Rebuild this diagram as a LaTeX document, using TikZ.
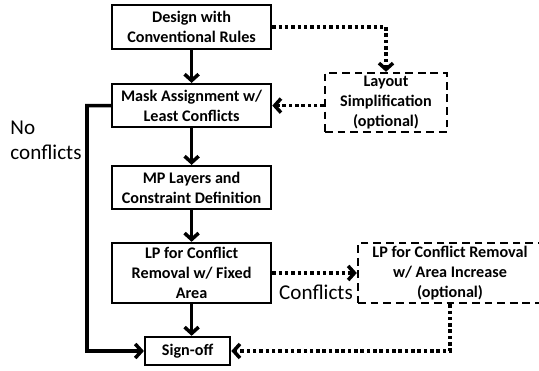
\documentclass[tikz,border=0pt]{standalone}
\usepackage{fontspec}
\setmainfont{Carlito}
\usepackage{tikz}
\usetikzlibrary{positioning}
\usetikzlibrary{calc}
\usetikzlibrary{arrows, arrows.meta}

\begin{document}
\begin{tikzpicture}[
    auto,
    flowBox/.style={rectangle,
    draw=black,
    line width=1.7pt,
    font=\fontsize{11.5}{14.2}\selectfont\bfseries,
    align=center,
    inner sep=0pt,
    minimum width=3.975cm},
    optBox/.style={flowBox,
    dash pattern=on 5.5pt off 3.5pt},
    plainText/.style={font=\fontsize{15}{17.8}\selectfont, inner sep=0pt}
    ]
    \useasboundingbox (0,0) rectangle (13.475,-9.275);
    \node[flowBox, minimum height=1.1cm] (1) [xshift=4.79cm, yshift=-0.675cm] {Design with\\Conventional Rules};
    \node[flowBox, minimum height=1.075cm] (2) [xshift=4.79cm, yshift=-2.64cm] {Mask Assignment w/\\Least Conflicts};
    \draw[line width=2.5pt, >={Straight Barb[length=4.5pt,width=10pt]}, ->] (1) -- (2);
    \node[optBox, minimum width=3.05cm, minimum height=1.475cm] (6) [xshift=9.65cm, yshift=-2.5625cm] {Layout\\Simplification\\(optional)};
    \draw[line width=2.5pt, dash pattern=on 2.5pt off 2pt, >={Straight Barb[length=4.5pt,width=10pt]}, ->] (1.east) -| (6.north);
    \draw[line width=2.5pt, dash pattern=on 2.5pt off 2pt, >={Straight Barb[length=4.5pt,width=10pt]}, ->] (6.west |- 2.east) -- (2.east);
    \node[flowBox, minimum height=1.075cm] (3) [xshift=4.79cm, yshift=-4.69cm] {MP Layers and\\Constraint Definition};
    \draw[line width=2.5pt, >={Straight Barb[length=4.5pt,width=10pt]}, ->] (2) -- (3);
    \node[flowBox, minimum height=1.5cm] (4) [xshift=4.79cm, yshift=-6.825cm] {LP for Conflict\\Removal w/ Fixed\\Area};
    \draw[line width=2.5pt, >={Straight Barb[length=4.5pt,width=10pt]}, ->] (3) -- (4);
    \node[flowBox, minimum width=2.125cm, minimum height=0.7cm] (5) [xshift=4.69cm, yshift=-8.775cm] {Sign-off};
    \draw[line width=2.5pt, >={Straight Barb[length=4.5pt,width=10pt]}, ->] (4.south) -- (4.south |- 5.north);
    \node[optBox, minimum width=4.6cm, minimum height=1.5cm] (7) [xshift=11.25cm, yshift=-6.825cm] {LP for Conflict Removal\\w/ Area Increase\\(optional)};
    \draw[line width=2.5pt, dash pattern=on 2.5pt off 2pt, >={Straight Barb[length=4.5pt,width=10pt]}, ->] (4.east) -- (7.west);
    \draw[line width=2.5pt, dash pattern=on 2.5pt off 2pt, >={Straight Barb[length=4.5pt,width=10pt]}, ->] (7.south) |- (5.east);
    % bypass on the left when nothing conflicts
    \coordinate (8) at (2.175,-2.64);
    \draw[line width=2.5pt, >={Straight Barb[length=4.5pt,width=10pt]}, ->] (2.west) -- (8) |- (5.west);
    \node[plainText, align=left] (9) [xshift=1.15cm, yshift=-3.5cm] {No\\conflicts};
    \node[plainText] (10) [xshift=7.9cm, yshift=-7.3cm] {Conflicts};
  \end{tikzpicture}
\end{document}
